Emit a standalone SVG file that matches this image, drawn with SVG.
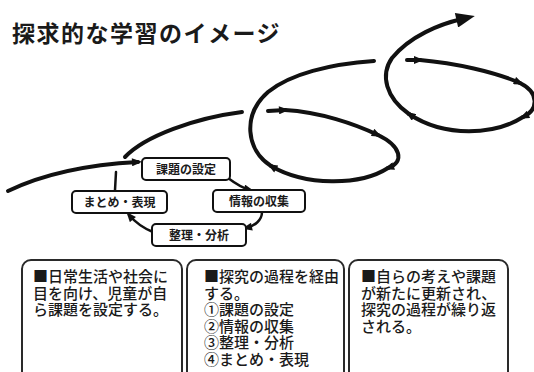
<svg xmlns="http://www.w3.org/2000/svg" width="534" height="372" viewBox="0 0 534 372">
<style>
.t{font-family:"Noto Sans CJK JP","Noto Sans CJK SC",sans-serif;fill:#1a1a1a}
.title{font-size:23px;font-weight:bold;letter-spacing:1.5px}
.lbl{font-size:12px;font-weight:bold;text-anchor:middle}
.bx{font-size:15px;font-weight:500}
.node{fill:#fff;stroke:#111;stroke-width:2}
.panel{fill:#fff;stroke:#2a2a2a;stroke-width:2}
.loop{fill:none;stroke:#111;stroke-width:4;stroke-linecap:round}
.thin{fill:none;stroke:#111;stroke-width:2.5;stroke-linecap:round}
</style>
<defs>
<marker id="ah" viewBox="0 0 10 8" refX="6" refY="4" markerWidth="11" markerHeight="8" orient="auto" markerUnits="userSpaceOnUse"><path d="M0,0 L10,4 L0,8 z" fill="#111"/></marker>
<marker id="ahL" viewBox="0 0 10 8" refX="3" refY="4" markerWidth="22" markerHeight="15" orient="auto" markerUnits="userSpaceOnUse"><path d="M0,0 L10,4 L0,8 z" fill="#111"/></marker>
</defs>
<rect width="534" height="372" fill="#fff"/>
<text class="t title" x="12" y="42">探求的な学習のイメージ</text>

<g id="connectors">
  <path class="loop" d="M8,191 Q60,166 138,162" stroke-width="5" marker-end="url(#ah)"/>
  <path class="thin" d="M228,178 C236,184 242,188 250,190" marker-end="url(#ah)"/>
  <path class="thin" d="M262,212 C262,220 255,226 246,228" marker-end="url(#ah)"/>
  <path class="thin" d="M153,232 C143,228 135,222 129,215" stroke-width="3.5" marker-end="url(#ah)"/>
  <path class="thin" d="M115,190 L116,172" stroke-width="2"/>
  <path class="loop" d="M125,157 C145,136 195,118 242,112" stroke-width="3"/>
  <path class="loop" d="M268,111 L285,110" marker-end="url(#ah)"/>
  <path class="loop" d="M285,110 C320,112 355,124 378,135" marker-end="url(#ah)"/>
  <path class="loop" d="M378,135 C401,146 405,162 388,168" marker-end="url(#ah)"/>
  <path class="loop" d="M388,168 C360,186 305,186 271,166" marker-end="url(#ah)"/>
  <path class="loop" d="M271,166 C246,150 242,115 268,92 C290,74 330,64 374,61"/>
  <path class="loop" d="M407,60 L420,60" marker-end="url(#ah)"/>
  <path class="loop" d="M420,60 C455,63 495,72 520,83" marker-end="url(#ah)"/>
  <path class="loop" d="M520,83 C540,93 538,110 523,117" marker-end="url(#ah)"/>
  <path class="loop" d="M523,117 C495,135 445,138 409,114" marker-end="url(#ah)"/>
  <path class="loop" d="M409,114 C386,98 380,75 392,58 C410,36 440,24 462,19" marker-end="url(#ahL)"/>
</g>

<g id="n-kadai">
  <rect class="node" x="142" y="158" width="88" height="22" rx="4"/>
  <text class="t lbl" x="186" y="173.5">課題の設定</text>
</g>
<g id="n-joho">
  <rect class="node" x="213" y="190" width="92" height="22" rx="4"/>
  <text class="t lbl" x="259" y="205.5">情報の収集</text>
</g>
<g id="n-seiri">
  <rect class="node" x="152" y="224" width="94" height="22" rx="4"/>
  <text class="t lbl" x="199" y="239.5">整理・分析</text>
</g>
<g id="n-matome">
  <rect class="node" x="72" y="191" width="95" height="22" rx="4"/>
  <text class="t lbl" x="119.5" y="206.5">まとめ・表現</text>
</g>

<g id="panel1">
  <rect class="panel" x="22" y="260" width="160" height="130" rx="9"/>
  <text class="t bx" x="33" y="282"><tspan x="33">■日常生活や社会に</tspan><tspan x="33" dy="16.5">目を向け、児童が自</tspan><tspan x="33" dy="16.5">ら課題を設定する。</tspan></text>
</g>
<g id="panel2">
  <rect class="panel" x="187" y="260" width="157" height="130" rx="9"/>
  <text class="t bx" x="204" y="282"><tspan x="204">■探究の過程を経由</tspan><tspan x="204" dy="16.5">する。</tspan><tspan x="204" dy="16.5">①課題の設定</tspan><tspan x="204" dy="16.5">②情報の収集</tspan><tspan x="204" dy="16.5">③整理・分析</tspan><tspan x="204" dy="16.5">④まとめ・表現</tspan></text>
</g>
<g id="panel3">
  <rect class="panel" x="349" y="260" width="159" height="130" rx="9"/>
  <text class="t bx" x="361" y="282"><tspan x="361">■自らの考えや課題</tspan><tspan x="361" dy="16.5">が新たに更新され、</tspan><tspan x="361" dy="16.5">探究の過程が繰り返</tspan><tspan x="361" dy="16.5">される。</tspan></text>
</g>
</svg>
